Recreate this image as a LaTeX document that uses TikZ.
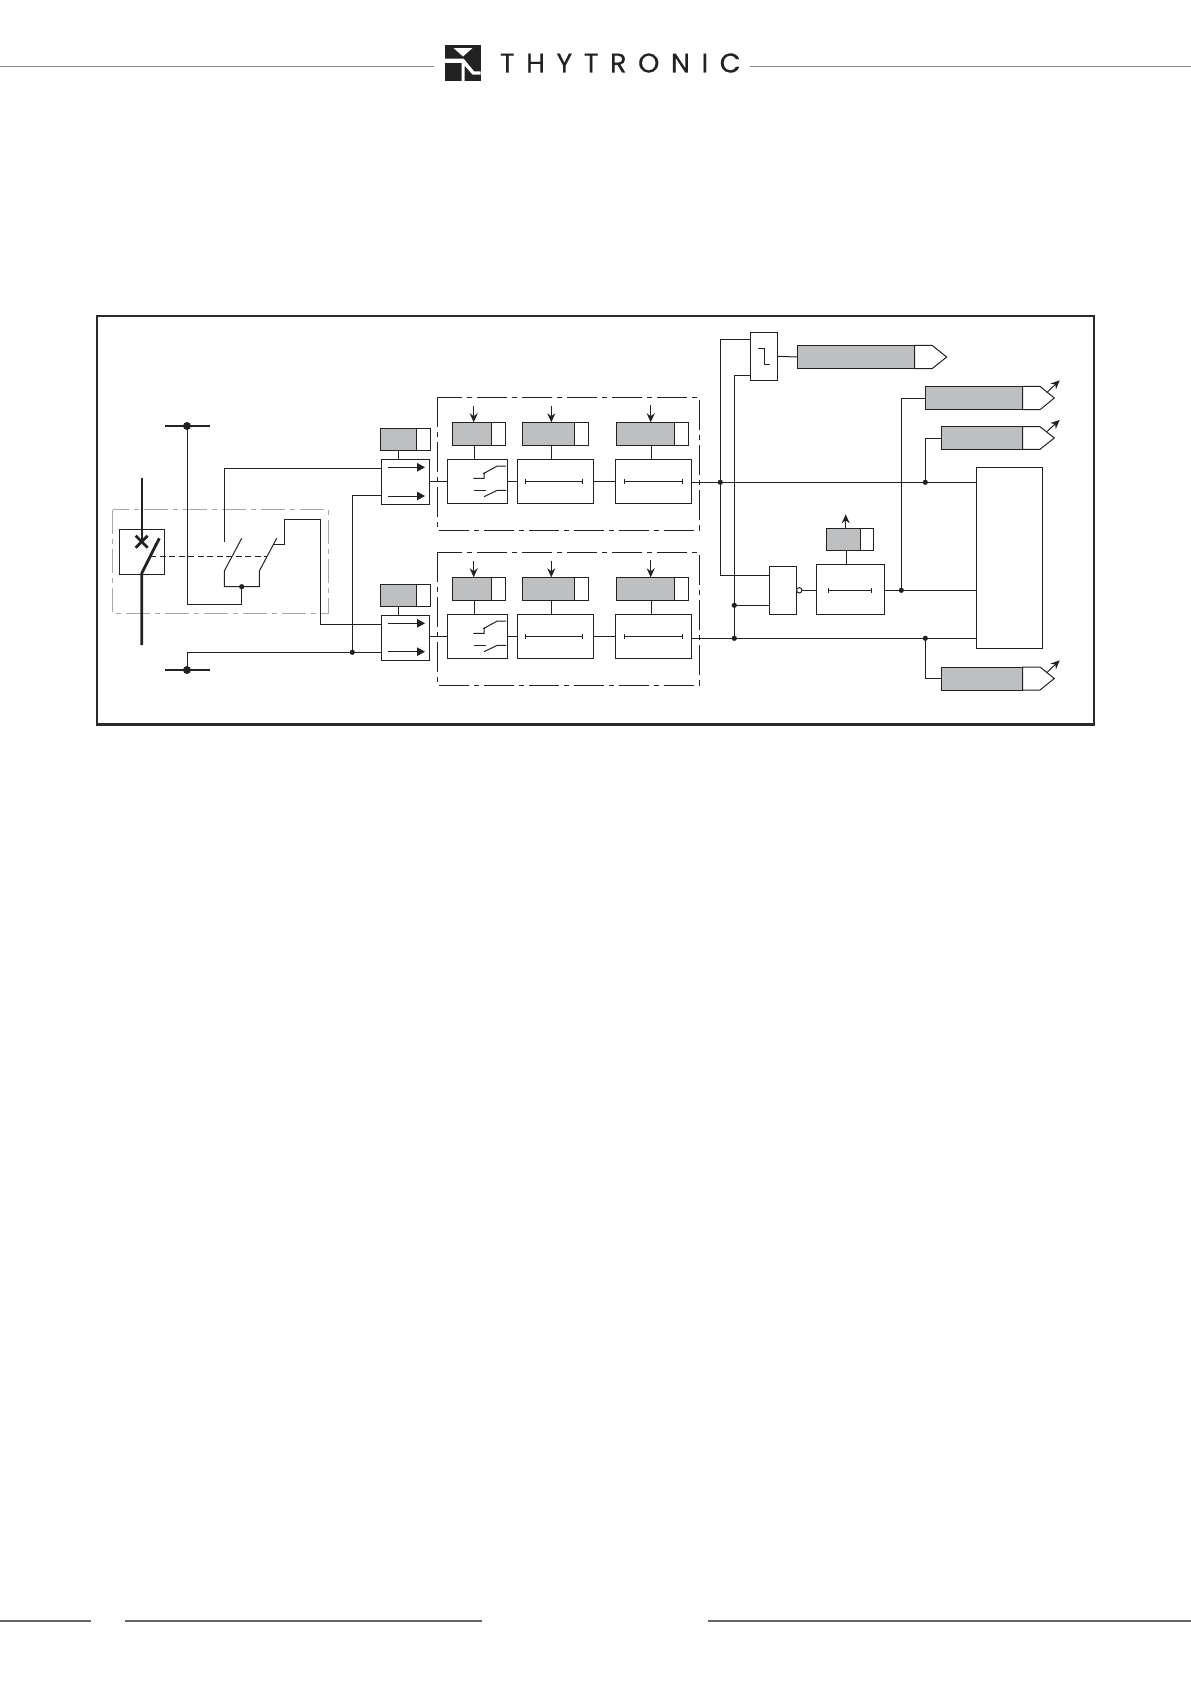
\documentclass[tikz,border=0pt]{standalone}
\usepackage{fontspec}
\setmainfont{Poppins}
\usetikzlibrary{arrows.meta}
\definecolor{ink}{HTML}{222222}
\definecolor{fillgrey}{HTML}{BEBFC0}
\definecolor{rulegrey}{HTML}{8A8A8A}
\definecolor{frameink}{HTML}{2A2A2A}
\definecolor{dashgrey}{HTML}{A8A8A8}
\tikzset{
  wire/.style={draw=ink,line width=1pt},
  thick wire/.style={draw=ink,line width=2.8pt},
  block/.style={draw=ink,fill=white,line width=1pt,inner sep=0pt,outer sep=0pt},
  greyblock/.style={block,fill=fillgrey},
  dot/.style={fill=ink,draw=none},
  grouping/.style={draw=ink,line width=1pt,dash pattern=on 30pt off 5pt on 5pt off 5pt},
  arrowin/.style={wire,-{Stealth[length=9pt,width=8pt]}},
  arrowsel/.style={wire,-{Triangle[length=8pt,width=8.5pt]}},
}
% name, x1, y1, x2, y2, style
\newcommand{\bx}[6]{%
  \pgfmathsetmacro{\bxcx}{(#2+#4)/2}\pgfmathsetmacro{\bxcy}{(#3+#5)/2}%
  \pgfmathsetmacro{\bxw}{#4-#2}\pgfmathsetmacro{\bxh}{#5-#3}%
  \node[#6,minimum width=\bxw pt,minimum height=\bxh pt] (#1) at (\bxcx,\bxcy) {};}
% setting: name, x1, xsplit, x2, y1, y2
\newcommand{\setting}[6]{%
  \bx{#1w}{#3}{#5}{#4}{#6}{block}\bx{#1g}{#2}{#5}{#3}{#6}{greyblock}}
% timer bar at x1..x2 ,y
\newcommand{\timerbar}[3]{%
  \draw[wire] (#1,#3) -- (#2,#3);
  \draw[wire] (#1,#3-2.2) -- (#1,#3+2.2);
  \draw[wire] (#2,#3-2.2) -- (#2,#3+2.2);}
\newcommand{\jn}[1]{\fill[dot] (#1) circle[radius=2.6];}
\newcommand{\stem}[3]{\draw[wire] (#1.south -| #3,0) -- (#2.north -| #3,0);}
\newcommand{\outbox}[7]{% name x1 xsplit xshoulder xtip y1 y2
  \pgfmathsetmacro{\ymid}{(#6+#7)/2}%
  \draw[block] (#3,#6) -- (#4,#6) -- (#5,\ymid) -- (#4,#7) -- (#3,#7) -- cycle;
  \bx{#1}{#2}{#6}{#3}{#7}{greyblock}}
\newcommand{\chain}[3]{% row letter, y-offset, interconnect y offset
\begin{scope}[shift={(0,#2)}]
  \bx{#1a}{447.3}{459.3}{507.3}{503.3}{block}
  \bx{#1b}{517.3}{459.3}{593.3}{503.3}{block}
  \bx{#1c}{615.3}{459.3}{691.3}{503.3}{block}
  \setting{#1p}{452.3}{491}{505.3}{422.3}{445.3}
  \setting{#1q}{522.3}{574.7}{588.3}{422.3}{445.3}
  \setting{#1r}{616.7}{674.7}{688.3}{422.3}{445.3}
  \stem{#1pg}{#1a}{474.3}
  \stem{#1qg}{#1b}{551.3}
  \stem{#1rg}{#1c}{651.3}
  \coordinate (#1pt) at (473.7,405.7);
  \coordinate (#1qt) at (551.3,405.7);
  \coordinate (#1rt) at (650.7,405);
  \draw[arrowin] (#1pt) -- (#1pt |- #1pg.north);
  \draw[arrowin] (#1qt) -- (#1qt |- #1qg.north);
  \draw[arrowin] (#1rt) -- (#1rt |- #1rg.north);
  \draw[wire] (#1b.west) -- (#1a.east);
  \draw[wire] (#1b.east) -- (#1c.west);
  \timerbar{525.3}{582.7}{481.3}
  \timerbar{624.3}{682.7}{481.3}
  \draw[wire] (473.3,478.3) -- (484,478.3) -- (484,473.3) -- (497.3,466) -- (506,466);
  \fill[dot] (484,473.3) circle[radius=1];
  \draw[wire] (474,490) -- (485.7,490);
  \draw[wire] (484,496.7) -- (497.3,490.3) -- (506,490.3);
\end{scope}}
\begin{document}
\begin{tikzpicture}[x=1pt,y=-1pt]
\useasboundingbox (0,0) rectangle (1191,1684);
\fill[white] (0,0) rectangle (1191,1684);
% page furniture
\draw[rulegrey,line width=1pt] (0,66) -- (434,66);
\draw[rulegrey,line width=1pt] (750,66) -- (1191,66);
\draw[black!60,line width=1.8pt] (0,1621) -- (91,1621);
\draw[black!60,line width=1.8pt] (125,1621) -- (482,1621);
\draw[black!60,line width=1.8pt] (708,1621) -- (1191,1621);
% logo
\fill[ink] (444.8,45.3) rectangle (480.6,81);
\fill[white] (453.5,48) -- (472.5,48) -- (463,56.5) -- cycle;
\fill[white] (444.8,58.5) -- (463.5,58.5) -- (474,71.3) -- (480.6,71.3) -- (480.6,74.5) -- (472.5,74.5) -- (464.5,65.5) -- (464.5,81) -- (461.5,81) -- (461.5,62.8) -- (444.8,62.8) -- cycle;
\node[anchor=west,inner sep=0pt,outer sep=0pt,text=ink] (brand) at (500,63) {\fontsize{27}{27}\selectfont\addfontfeature{LetterSpace=43,FakeBold=0.5}THYTRONIC};
% frame
\node[draw=frameink,line width=2.6pt,inner sep=0pt,outer sep=0pt,minimum width=997pt,minimum height=408.5pt] (frame) at (595.5,520.2) {};
% grey interlock group
\draw[draw=dashgrey,line width=1.2pt,dash pattern=on 24pt off 5pt on 5pt off 5pt] (112.7,509.7) rectangle (328.7,613.7);
% group frames
\draw[grouping] (437.3,397.3) rectangle (699.3,530.3);
\draw[grouping] (437.3,552.3) rectangle (699.3,685.3);
% breaker
\bx{brk}{119.3}{529.3}{164.7}{574.3}{block}
\coordinate (lineT) at (142,477.7);
\coordinate (lineX) at (142,541.7);
\coordinate (lineM) at (141.7,573.3);
\coordinate (lineE) at (159.3,538.3);
\coordinate (lineB) at (141.7,645);
\draw[thick wire] (lineT) -- (lineX);
\draw[thick wire] (lineE) -- (lineM) -- (lineB);
\draw[thick wire] (135.7,535.7) -- (147.7,547.7);
\draw[thick wire] (147.7,535.7) -- (135.7,547.7);
% aux contacts
\coordinate (busA) at (187,426);
\coordinate (busB) at (187,670);
\coordinate (cm) at (241.7,586.7);
\draw[thick wire,line width=1.8pt] (165,426) -- (210,426);
\draw[thick wire,line width=1.8pt] (165,670) -- (210,670);
\fill[dot] (busA) circle[radius=4];
\fill[dot] (busB) circle[radius=4];
\draw[wire] (busA) -- (187,604.3) -- (cm |- 0,604.3) -- (cm);
\draw[wire] (241.7,538.3) -- (224.3,571) -- (224.3,586.7) -- (259.3,586.7) -- (259.3,571) -- (276.7,538.3);
\jn{cm}
\draw[wire,dash pattern=on 6pt off 3.5pt] (150,556.7) -- (266.7,556.7);
% selectors
\bx{selA}{381.3}{459.3}{429.3}{504.3}{block}
\bx{selB}{381.3}{615.3}{429.3}{660.3}{block}
\setting{setA}{380.7}{416.7}{430.7}{428}{450.7}
\setting{setB}{380.7}{416.7}{430.7}{584.3}{606.3}
\stem{setAg}{selA}{398.7}
\stem{setBg}{selB}{398.7}
\draw[arrowsel] (388,467.3) -- (425,467.3);
\draw[arrowsel] (388,496) -- (425,496);
\draw[arrowsel] (388,623.3) -- (425,623.3);
\draw[arrowsel] (388,651.7) -- (425,651.7);
\coordinate (selAi1) at (381.3,468.3);
\coordinate (selAi2) at (381.3,495.3);
\coordinate (selBi1) at (381.3,624.3);
\coordinate (selBi2) at (381.3,652.3);
\coordinate (jB) at (352.3,652.3);
\draw[wire] (224.3,541.7) -- (224.3,468.3) -- (selAi1);
\draw[wire] (274,544.3) -- (284.3,544.3) -- (284.3,519.3) -- (320.3,519.3) -- (320.3,624.3) -- (selBi1);
\draw[wire] (busB) -- (187,652.3) -- (selBi2);
\draw[wire] (jB) -- (352.3,495.3) -- (selAi2);
\jn{jB}
% chains
\chain{u}{0}{0}
\chain{l}{155}{0}
\draw[wire] (selA.east |- ua.west) -- (ua.west);
\draw[wire] (selB.east |- la.west) -- (la.west);
% step block
\bx{stepb}{750.3}{332.3}{777.7}{380.3}{block}
\draw[wire] (758,348.3) -- (764,348.3) -- (764,364.3) -- (770,364.3);
\outbox{o1}{797.3}{914.7}{932}{946.7}{345.3}{368.7}
\draw[wire] (stepb.east) -- (o1.west);
% big block, outputs
\bx{big}{976.3}{467.3}{1042.3}{648.3}{block}
\outbox{o2}{925.7}{1022.7}{1040}{1054.3}{386.3}{409.7}
\outbox{o3}{941.3}{1022.7}{1040}{1054.3}{426.7}{449.3}
\outbox{o4}{941.3}{1022.7}{1040}{1054.3}{667}{690}
\draw[arrowin] (1046.7,392.7) -- (1059.7,380.3);
\draw[arrowin] (1046.7,431.7) -- (1059.7,420);
\draw[arrowin] (1046.7,672.7) -- (1059.7,660.3);
% gate and timer
\bx{gate}{769.3}{566.3}{796.7}{614.7}{block}
\bx{tm}{816.3}{564.3}{884.3}{614.7}{block}
\setting{tmset}{826.7}{860}{873.7}{528.3}{550.7}
\stem{tmsetg}{tm}{846.3}
\coordinate (tmup) at (845.7,514.3);
\draw[arrowin] (tmsetg.north -| tmup) -- (tmup);
\timerbar{828.3}{871.7}{590.3}
\coordinate (bub) at (799.3,590.3);
\draw[wire] (bub) -- (tm.west |- bub);
\draw[block] (bub) circle[radius=2.7];
% right-hand wiring
\coordinate (j1) at (720.3,482.3);
\coordinate (j2) at (734.3,605.3);
\coordinate (j3) at (734.3,638.3);
\coordinate (j4) at (925.3,482.3);
\coordinate (j5) at (925.3,638.3);
\coordinate (j6) at (901.3,590.3);
\draw[wire] (uc.east |- j1) -- (j1) -- (j4) -- (big.west |- j4);
\draw[wire] (lc.east |- j3) -- (j3) -- (j5) -- (big.west |- j5);
\draw[wire] (stepb.west |- 0,339.3) -- (720.3,339.3) -- (720.3,575.3) -- (gate.west |- 0,575.3);
\draw[wire] (stepb.west |- 0,375.3) -- (734.3,375.3) -- (j3);
\draw[wire] (j2) -- (gate.west |- j2);
\draw[wire] (tm.east |- j6) -- (j6) -- (big.west |- j6);
\draw[wire] (j6) -- (901.3,398.3) -- (o2.west |- 0,398.3);
\draw[wire] (j4) -- (925.3,438.3) -- (o3.west |- 0,438.3);
\draw[wire] (j5) -- (925.3,678.3) -- (o4.west |- 0,678.3);
\jn{j1}\jn{j2}\jn{j3}\jn{j4}\jn{j5}\jn{j6}
\end{tikzpicture}
\end{document}
